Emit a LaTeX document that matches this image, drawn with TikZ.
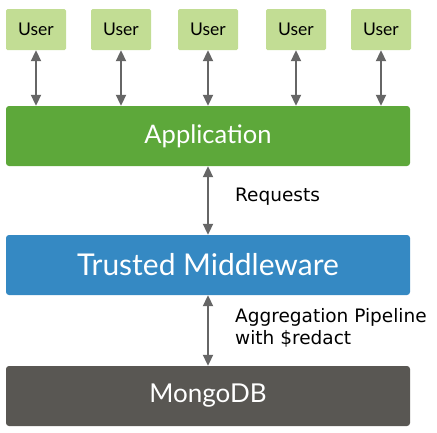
\documentclass[tikz,border=0pt]{standalone}
\usepackage{fontspec}
\setmainfont{Lato}
\newfontfamily\dejavu{DejaVu Sans}
\usetikzlibrary{arrows.meta}
\definecolor{usergreen}{HTML}{C2DD94}
\definecolor{appgreen}{HTML}{5DA83A}
\definecolor{midblue}{HTML}{3589C3}
\definecolor{mongogray}{HTML}{595753}
\definecolor{arrowgray}{HTML}{666666}
\tikzset{
  userbox/.style={fill=usergreen, minimum width=60pt, minimum height=41pt, inner sep=0pt, font=\fontsize{17.5}{20}\selectfont, text=black, rounded corners=1.5pt},
  layerbox/.style={minimum width=404pt, minimum height=60pt, inner sep=0pt, text=white, rounded corners=3pt},
  conn/.style={draw=arrowgray, line width=2pt, {Triangle[length=11pt,width=10pt]}-{Triangle[length=11pt,width=10pt]}, shorten <=0pt, shorten >=0pt},
  sidelabel/.style={font=\dejavu\fontsize{18.5}{22}\selectfont, anchor=west, align=left, inner sep=0pt}
}
\begin{document}
\begin{tikzpicture}[x=1pt,y=-1pt]
\useasboundingbox (0,0) rectangle (437,432);
\node[userbox] (u1) at (36,29.5) {User};
\node[userbox] (u2) at (121,29.5) {User};
\node[userbox] (u3) at (208,29.5) {User};
\node[userbox] (u4) at (296,29.5) {User};
\node[userbox] (u5) at (381,29.5) {User};
\node[layerbox, fill=appgreen, font=\fontsize{25.5}{28}\selectfont] (app) at (208,136) {Application};
\node[layerbox, fill=midblue, font=\fontsize{30}{34}\selectfont] (mid) at (208,265) {Trusted Middleware};
\node[layerbox, fill=mongogray, font=\fontsize{26}{29}\selectfont] (db) at (208,396) {MongoDB};
\foreach \i in {1,...,5}{
  \draw[conn] (u\i.south) -- (u\i.south |- app.north);
}
\draw[conn] (app.south) -- (mid.north);
\draw[conn] (mid.south) -- (db.north);
\node[sidelabel] (req) at (235,197) {Requests};
\node[sidelabel] (agg) at (235,328) {Aggregation Pipeline\\with \$redact};
\end{tikzpicture}
\end{document}
